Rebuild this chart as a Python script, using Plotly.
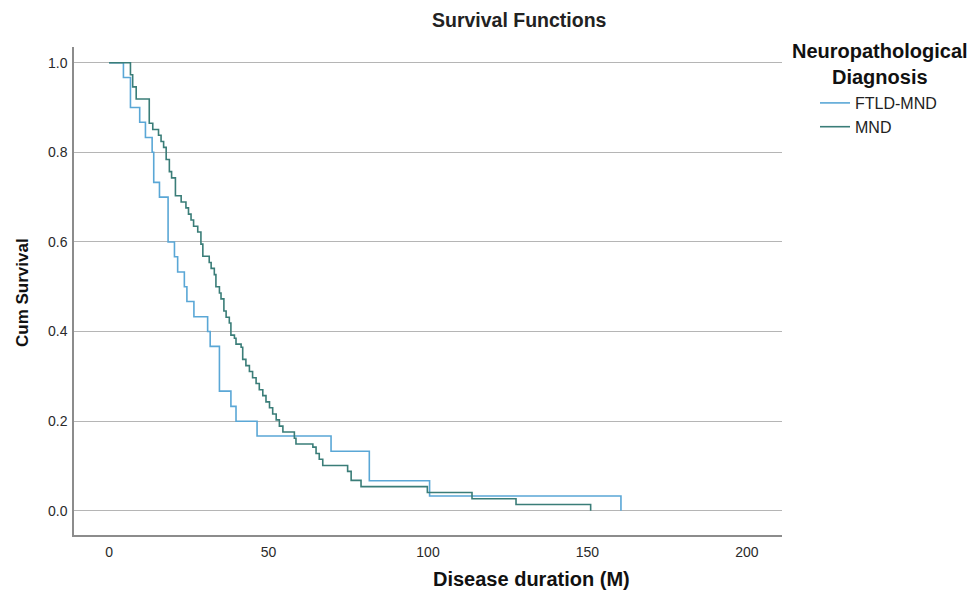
import plotly.graph_objects as go

# FTLD-MND Kaplan-Meier steps (months, cumulative survival)
ftld_time = [0, 4.5, 6.7, 9.6, 11.4, 13.5, 14.0, 15.8, 18.5, 20.5, 21.5, 23.6, 24.4, 26.6,
             30.9, 31.7, 34.6, 38.2, 39.8, 46.4, 69.6, 81.6, 100.5, 160.5]
ftld_surv = [1.0, 0.967, 0.9, 0.867, 0.833, 0.8, 0.733, 0.7, 0.6, 0.567, 0.533, 0.5, 0.467, 0.433,
             0.4, 0.367, 0.267, 0.233, 0.2, 0.167, 0.133, 0.067, 0.033, 0.0]

# MND Kaplan-Meier steps
mnd_time = [0, 6.7, 7.4, 8.5, 12.6, 13.7, 15.5, 16.3, 17.1, 17.9, 18.9, 19.6, 20.8, 22.6,
            24.1, 24.9, 25.7, 26.5, 27.8, 28.8, 29.4, 31.4, 32.0, 33.0, 33.5, 34.6, 35.1,
            36.0, 36.7, 37.7, 38.2, 39.3, 39.8, 41.4, 41.9, 42.9, 44.0, 45.0, 46.1, 47.1,
            48.2, 49.2, 50.3, 51.3, 52.4, 53.4, 54.5, 58.1, 58.6, 63.9, 64.9, 65.9, 67.0,
            74.8, 75.9, 79.0, 99.8, 113.8, 127.6, 151.0]
mnd_surv = [1.0, 0.973, 0.946, 0.919, 0.865, 0.851, 0.838, 0.824, 0.811, 0.784, 0.757, 0.743,
            0.703, 0.689, 0.676, 0.662, 0.649, 0.635, 0.622, 0.595, 0.568, 0.554, 0.541, 0.527,
            0.5, 0.486, 0.473, 0.446, 0.432, 0.419, 0.392, 0.385, 0.372, 0.365, 0.338, 0.324,
            0.311, 0.297, 0.284, 0.27, 0.257, 0.243, 0.23, 0.216, 0.203, 0.189, 0.176, 0.162,
            0.149, 0.142, 0.128, 0.115, 0.101, 0.088, 0.068, 0.054, 0.041, 0.027, 0.014, 0.0]

x_ticks = [0, 50, 100, 150, 200]
y_ticks = [0.0, 0.2, 0.4, 0.6, 0.8, 1.0]

FONT = "Liberation Sans, Arial, sans-serif"
W, H = 970, 601
L, R, T, B = 74, 188, 47, 66
PW, PH = W - L - R, H - T - B


def px_x(p):
    return (p - L) / PW


def px_y(p):
    return 1 - (p - T) / PH


fig = go.Figure()
fig.add_trace(go.Scatter(x=ftld_time, y=ftld_surv, mode="lines", name="FTLD-MND",
                         line=dict(shape="hv", color="#5aa7d6", width=1.6)))
fig.add_trace(go.Scatter(x=mnd_time, y=mnd_surv, mode="lines", name="MND",
                         line=dict(shape="hv", color="#3a7d78", width=1.6)))

annotations = [
    dict(text="<b>Survival Functions</b>", x=px_x(519), y=px_y(20), xref="paper", yref="paper",
         xanchor="center", yanchor="middle", showarrow=False,
         font=dict(size=19.5, color="#222222", family=FONT)),
    dict(text="<b>Disease duration (M)</b>", x=px_x(531), y=px_y(579), xref="paper", yref="paper",
         xanchor="center", yanchor="middle", showarrow=False,
         font=dict(size=20, color="#111111", family=FONT)),
    dict(text="<b>Cum Survival</b>", x=px_x(22), y=px_y(293), xref="paper", yref="paper",
         xanchor="center", yanchor="middle", showarrow=False, textangle=-90,
         font=dict(size=17, color="#111111", family=FONT)),
    dict(text="<b>Neuropathological<br>Diagnosis</b>", x=px_x(880), y=px_y(64), xref="paper",
         yref="paper", xanchor="center", yanchor="middle", showarrow=False, align="center",
         font=dict(size=20, color="#111111", family=FONT)),
]

fig.update_layout(
    width=W, height=H,
    margin=dict(l=L, r=R, t=T, b=B, autoexpand=False),
    paper_bgcolor="white", plot_bgcolor="white",
    font=dict(family=FONT, color="#222222"),
    annotations=annotations,
    legend=dict(x=px_x(815), xanchor="left", y=px_y(86), yanchor="top",
                font=dict(size=16, color="#222222"), tracegroupgap=0,
                bgcolor="rgba(0,0,0,0)"),
    xaxis=dict(range=[-11, 211], tickvals=x_ticks, showgrid=False, zeroline=False,
               showline=True, linecolor="#8c8c8c", linewidth=1.5, automargin=False,
               ticks="", ticklabelstandoff=3, tickfont=dict(size=14, color="#2a2a2a")),
    yaxis=dict(range=[-0.054, 1.035], tickvals=y_ticks, tickformat=".1f", showgrid=True,
               gridcolor="#b5b5b5", gridwidth=1.2, zeroline=False, automargin=False,
               showline=True, linecolor="#8c8c8c", linewidth=1.5,
               ticks="", ticklabelstandoff=2, tickfont=dict(size=14, color="#2a2a2a")),
)

fig.write_html("out.html", config={"displayModeBar": False},
               post_script="document.body.style.margin='0';document.body.style.overflow='hidden';")
